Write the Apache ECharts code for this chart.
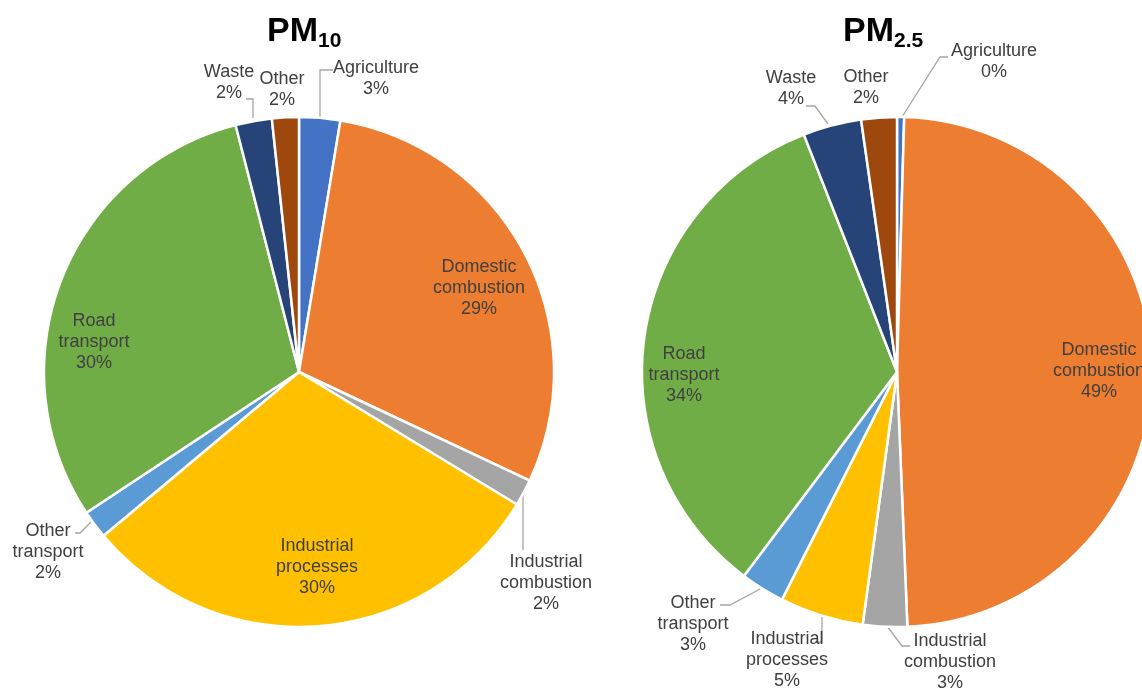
<!DOCTYPE html>
<html>
<head>
<meta charset="utf-8">
<script src="https://cdn.jsdelivr.net/npm/echarts@6/dist/echarts.min.js"></script>
<style>html,body{margin:0;padding:0;background:#fff}#c{width:1142px;height:688px}</style>
</head>
<body>
<div id="c"></div>
<script>
var categories = ['Agriculture','Domestic combustion','Industrial combustion','Industrial processes','Other transport','Road transport','Waste','Other'];
var labelNames = ['Agriculture','Domestic\ncombustion','Industrial\ncombustion','Industrial\nprocesses','Other\ntransport','Road\ntransport','Waste','Other'];
var pm10Values = [2.6, 29.4, 1.7, 30.2, 1.8, 30.3, 2.3, 1.7];
var pm25Values = [0.45, 48.9, 2.8, 5.3, 2.8, 33.8, 3.7, 2.25];
var colors = ['#4472C4','#ED7D31','#A5A5A5','#FFC000','#5B9BD5','#70AD47','#264478','#9E480E'];

// label placement (text centre) and leader lines, per slice
var layout10 = {
  0: {x:376, y:79, line:[[320,118],[320,70],[333,70]]},
  1: {x:479, y:288},
  2: {x:546, y:583, line:[[523,492],[523,550]]},
  3: {x:317, y:567},
  4: {x:48, y:552, line:[[91,522],[80,533],[75,533]]},
  5: {x:94, y:342},
  6: {x:229, y:83, line:[[253,118],[253,99],[246,99]]},
  7: {x:282, y:90}
};
var layout25 = {
  0: {x:994, y:62, line:[[902,117],[940,57],[948,57]]},
  1: {x:1099, y:371},
  2: {x:950, y:662, line:[[887,626],[902,646],[910,646]]},
  3: {x:787, y:660, line:[[822,617],[822,642],[815,642]]},
  4: {x:693, y:624, line:[[760,589],[730,605],[720,605]]},
  5: {x:684, y:375},
  6: {x:791, y:89, line:[[828,124],[815,106],[806,106]]},
  7: {x:866, y:88}
};

function buildData(vals, lay) {
  return vals.map(function (v, i) {
    var hasLine = !!lay[i].line;
    return {
      name: categories[i], value: v,
      itemStyle: {color: colors[i]},
      label: {position: hasLine ? 'outside' : 'inside'},
      labelLine: {show: hasLine}
    };
  });
}
function makeSeries(vals, lay, cx) {
  return {
    type: 'pie',
    center: [cx, 372],
    radius: [0, 255],
    startAngle: 90,
    clockwise: true,
    avoidLabelOverlap: false,
    animation: false,
    itemStyle: {borderColor: '#fff', borderWidth: 2.5},
    label: {
      color: '#404040', fontSize: 18, lineHeight: 21, fontFamily: 'Liberation Sans, Arial, sans-serif',
      align: 'center',
      formatter: function (p) { return labelNames[p.dataIndex] + '\n' + Math.round(p.percent) + '%'; }
    },
    labelLine: {lineStyle: {color: '#A6A6A6', width: 1.3}, smooth: false},
    labelLayout: function (p) {
      var l = lay[p.dataIndex];
      var r = {x: l.x, y: l.y, align: 'center', verticalAlign: 'middle'};
      if (l.line) r.labelLinePoints = l.line;
      return r;
    },
    data: buildData(vals, lay)
  };
}

var chart = echarts.init(document.getElementById('c'), null, {renderer: 'canvas'});
var titleRich = {
  a: {fontSize: 34, fontWeight: 'bold', color: '#000', fontFamily: 'Liberation Sans, Arial, sans-serif', verticalAlign: 'bottom', lineHeight: 36},
  b: {fontSize: 21, fontWeight: 'bold', color: '#000', fontFamily: 'Liberation Sans, Arial, sans-serif', verticalAlign: 'bottom', lineHeight: 36, padding: [0,0,-3,0]}
};
chart.setOption({
  backgroundColor: '#fff',
  title: [
    {text: '{a|PM}{b|10}', left: 262, top: 8, textStyle: {rich: titleRich}},
    {text: '{a|PM}{b|2.5}', left: 838, top: 8, textStyle: {rich: titleRich}}
  ],
  series: [
    makeSeries(pm10Values, layout10, 299),
    makeSeries(pm25Values, layout25, 897)
  ]
});
</script>
</body>
</html>
